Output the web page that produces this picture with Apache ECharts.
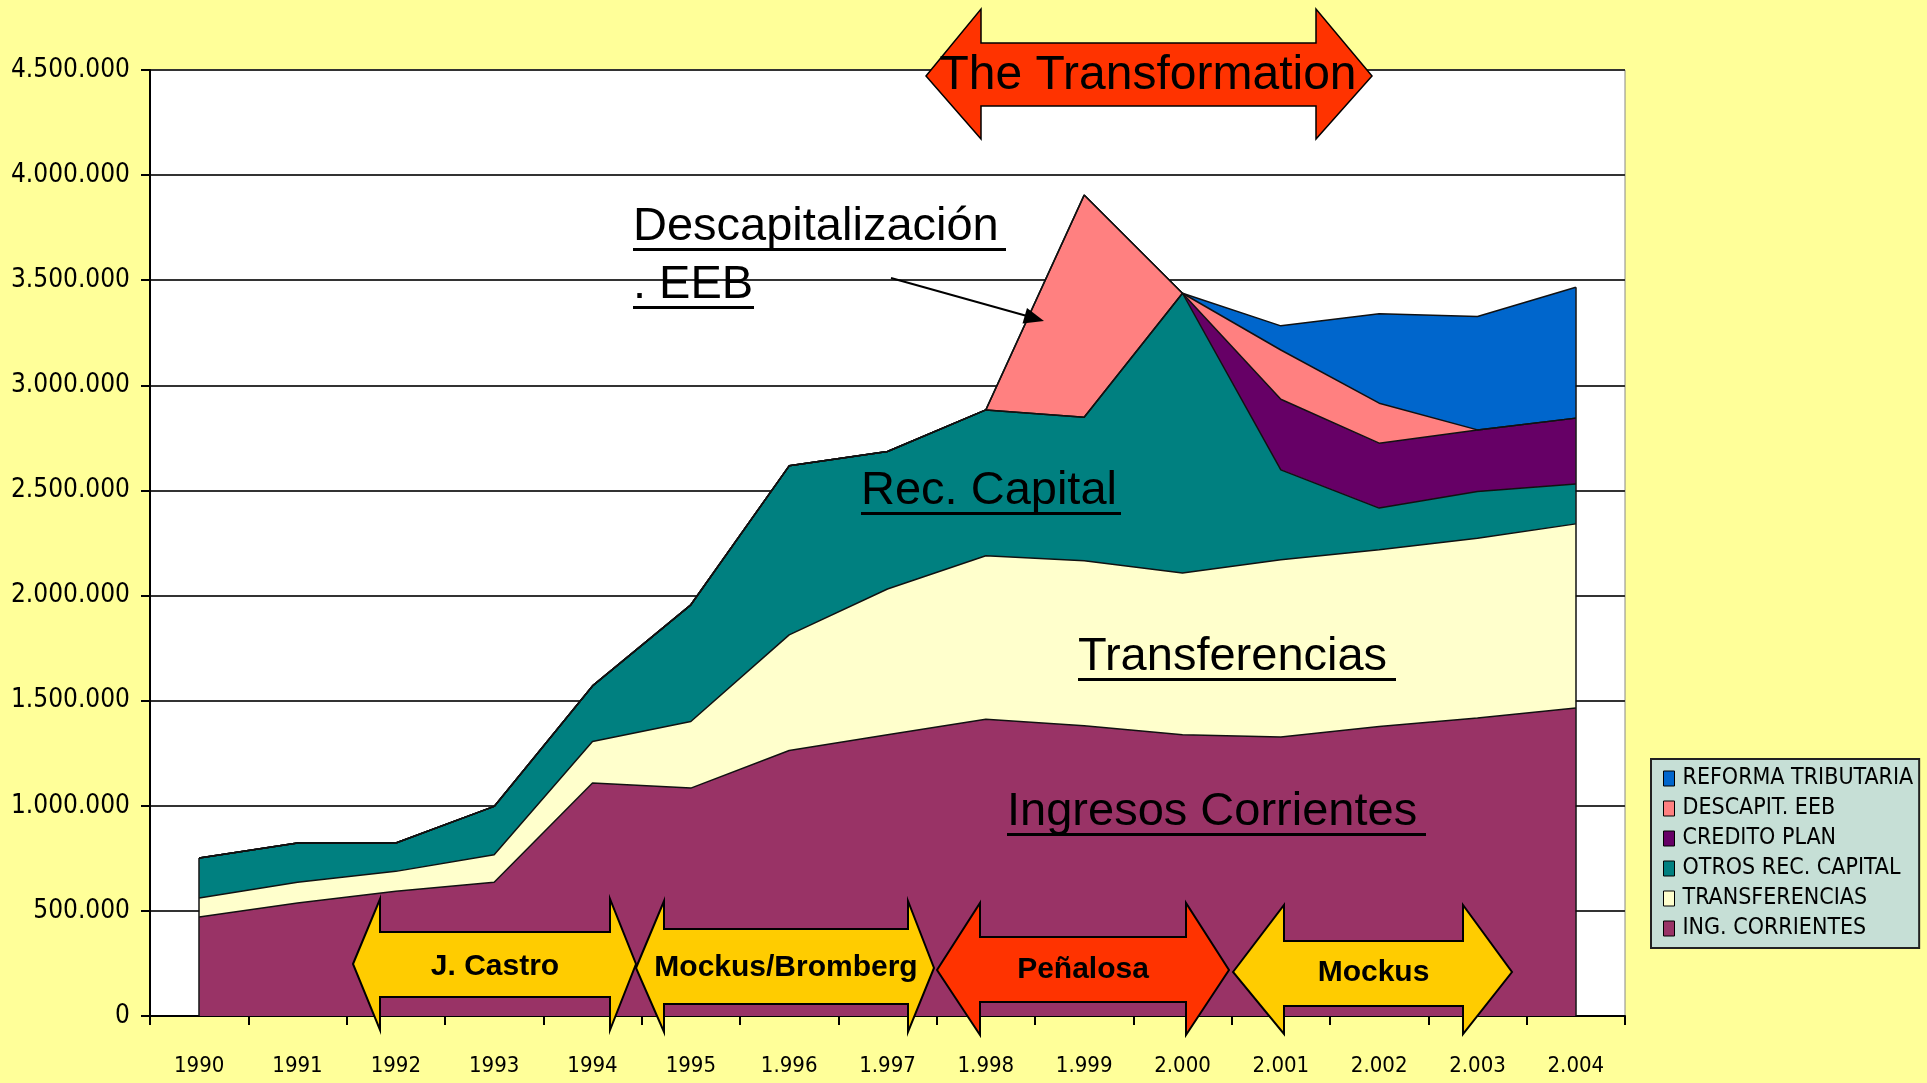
<!DOCTYPE html>
<html>
<head>
<meta charset="utf-8">
<script src="https://cdn.jsdelivr.net/npm/echarts@6/dist/echarts.min.js"></script>
<style>
html,body{margin:0;padding:0;background:#FFFF99;}
#chart{width:1927px;height:1083px;}
</style>
</head>
<body>
<div id="chart"></div>
<script>
// ---- Data ----
var years = ['1990','1991','1992','1993','1994','1995','1.996','1.997','1.998','1.999','2.000','2.001','2.002','2.003','2.004'];
var ingCorrientes     = [471000, 538000, 593000, 636000, 1108000, 1084000, 1263000, 1338000, 1412000, 1381000, 1338000, 1327000, 1377000, 1417000, 1465000];
var transferencias    = [90000, 98000, 95000, 131000, 198000, 317000, 550000, 693000, 777000, 784000, 769000, 843000, 841000, 856000, 876000];
var otrosRecCapital   = [191000, 187000, 135000, 230000, 264000, 555000, 804000, 654000, 694000, 683000, 1331000, 428000, 198000, 222000, 190000];
var creditoPlan       = [0, 0, 0, 0, 0, 0, 0, 0, 0, 0, 0, 336000, 309000, 293000, 313000];
var descapitEEB       = [0, 0, 0, 0, 0, 0, 0, 0, 0, 1057000, 0, 234000, 190000, 0, 0];
var reformaTributaria = [0, 0, 0, 0, 0, 0, 0, 0, 0, 0, 0, 115000, 425000, 539000, 623000];
var yTicks = [0, 500000, 1000000, 1500000, 2000000, 2500000, 3000000, 3500000, 4000000, 4500000];

var seriesNames  = ['ING. CORRIENTES','TRANSFERENCIAS','OTROS REC. CAPITAL','CREDITO PLAN','DESCAPIT. EEB','REFORMA TRIBUTARIA'];
var seriesData   = [ingCorrientes, transferencias, otrosRecCapital, creditoPlan, descapitEEB, reformaTributaria];
var seriesColors = ['#993366','#FFFFCC','#008080','#660066','#FF8080','#0066CC'];

var periods = [
  {name:'J. Castro', color:'#FFCC00', x0:353, x1:380, x2:610, x3:636, yc:964, ht:899, hb:1030, st:932, sb:997, ty:967},
  {name:'Mockus/Bromberg', color:'#FFCC00', x0:636, x1:664, x2:908, x3:934, yc:968, ht:901, hb:1032, st:929, sb:1004, ty:968},
  {name:'Peñalosa', color:'#FF3300', x0:937, x1:980, x2:1186, x3:1229, yc:970, ht:903, hb:1035, st:937, sb:1002, ty:970},
  {name:'Mockus', color:'#FFCC00', x0:1233, x1:1284, x2:1463, x3:1512, yc:972, ht:905, hb:1034, st:941, sb:1006, ty:973}
];

var NARROW = "'DejaVu Sans Condensed','Liberation Sans Narrow',sans-serif";
var SANS = "'Liberation Sans',Arial,sans-serif";

function fmt(v){ return String(v).replace(/\B(?=(\d{3})+(?!\d))/g, '.'); }

function arrowPoly(p){
  return [[p.x0,p.yc],[p.x1,p.ht],[p.x1,p.st],[p.x2,p.st],[p.x2,p.ht],[p.x3,p.yc],[p.x2,p.hb],[p.x2,p.sb],[p.x1,p.sb],[p.x1,p.hb]];
}

var graphics = [];
periods.forEach(function(p){
  graphics.push({type:'polygon', z:100, shape:{points:arrowPoly(p)}, style:{fill:p.color, stroke:'#000', lineWidth:2}});
  graphics.push({type:'text', z:101, x:(p.x1+p.x2)/2, y:p.ty,
    style:{text:p.name, fill:'#000', font:'bold 30px '+SANS, align:'center', verticalAlign:'middle', textAlign:'center', textVerticalAlign:'middle'}});
});
// The Transformation
var tr = {x0:926, x1:981, x2:1316, x3:1372, yc:76, ht:9, hb:139, st:43, sb:106};
graphics.push({type:'polygon', z:100, shape:{points:arrowPoly(tr)}, style:{fill:'#FF3300', stroke:'#000', lineWidth:1.5}});
graphics.push({type:'text', z:101, x:1148, y:76,
  style:{text:'The Transformation', fill:'#000', font:'48px '+SANS, align:'center', verticalAlign:'middle', textAlign:'center', textVerticalAlign:'middle'}});

// Underlined annotations
var notes = [
  {t:'Descapitalización', x:633, base:243, w:373},
  {t:'. EEB', x:633, base:301, w:121},
  {t:'Rec. Capital', x:861, base:507, w:260},
  {t:'Transferencias', x:1078, base:673, w:318},
  {t:'Ingresos Corrientes', x:1007, base:828, w:419}
];
notes.forEach(function(n){
  graphics.push({type:'text', z:90, x:n.x, y:n.base - 16.3,
    style:{text:n.t, fill:'#000', font:'47px '+SANS, align:'left', verticalAlign:'middle', textAlign:'left', textVerticalAlign:'middle'}});
  graphics.push({type:'rect', z:90, shape:{x:n.x, y:n.base+5, width:n.w, height:3}, style:{fill:'#000'}});
});
// annotation arrow
graphics.push({type:'line', z:90, shape:{x1:891, y1:278, x2:1027, y2:316}, style:{stroke:'#000', lineWidth:2}});
graphics.push({type:'polygon', z:90, shape:{points:[[1044,321],[1027,308],[1022.5,323.5]]}, style:{fill:'#000'}});

// stacked totals at the two ends (for the area outline edges)
function totalAt(i){ var s = 0; seriesData.forEach(function(d){ s += d[i]; }); return s; }
var firstIdx = 0, lastIdx = years.length - 1;

var chart = echarts.init(document.getElementById('chart'));
var option = {
  backgroundColor:'#FFFF99',
  animation:false,
  grid:{left:150, right:302, top:70, bottom:67, show:true, backgroundColor:'#FFFFFF', borderColor:'#888', borderWidth:1,
        containLabel:false, outerBoundsMode:'none'},
  legend:{
    orient:'vertical', left:1651, top:759,
    data:seriesNames.slice().reverse(),
    backgroundColor:'#C6DFD6', borderColor:'#222', borderWidth:2,
    padding:[8,6,8,12], itemWidth:11, itemHeight:15, itemGap:7,
    icon:'rect',
    itemStyle:{borderColor:'#000', borderWidth:1},
    textStyle:{fontFamily:NARROW, fontSize:23, color:'#000', padding:[0,0,0,3]}
  },
  xAxis:{
    type:'category', data:years, boundaryGap:true,
    axisLine:{lineStyle:{color:'#000', width:2}},
    axisTick:{show:true, inside:false, length:9, lineStyle:{color:'#000', width:2}},
    axisLabel:{fontFamily:NARROW, fontSize:22, color:'#000', margin:39, interval:0},
    splitLine:{show:false}
  },
  yAxis:{
    type:'value', min:0, max:4500000, interval:500000,
    axisLine:{show:true, lineStyle:{color:'#000', width:2}},
    axisTick:{show:true, length:9, lineStyle:{color:'#000', width:2}},
    axisLabel:{fontFamily:NARROW, fontSize:26, color:'#000', margin:20,
      formatter:function(v){ return yTicks.indexOf(v) >= 0 ? fmt(v) : ''; }},
    splitLine:{show:true, lineStyle:{color:'#333', width:2}}
  },
  series: seriesNames.map(function(name, i){
    var s = {
      name:name, type:'line', stack:'total', data:seriesData[i],
      symbol:'none', smooth:false,
      lineStyle:{color:'#111', width:1.5},
      itemStyle:{color:seriesColors[i]},
      areaStyle:{color:seriesColors[i], opacity:1}
    };
    if (i === 0) {
      s.markLine = {
        silent:true, symbol:'none', label:{show:false},
        lineStyle:{color:'#111', width:1.5, type:'solid'},
        data:[
          [{coord:[years[firstIdx], 0]}, {coord:[years[firstIdx], totalAt(firstIdx)]}],
          [{coord:[years[lastIdx], 0]}, {coord:[years[lastIdx], totalAt(lastIdx)]}]
        ]
      };
    }
    return s;
  }),
  graphic:{elements:graphics}
};
chart.setOption(option);
</script>
</body>
</html>
